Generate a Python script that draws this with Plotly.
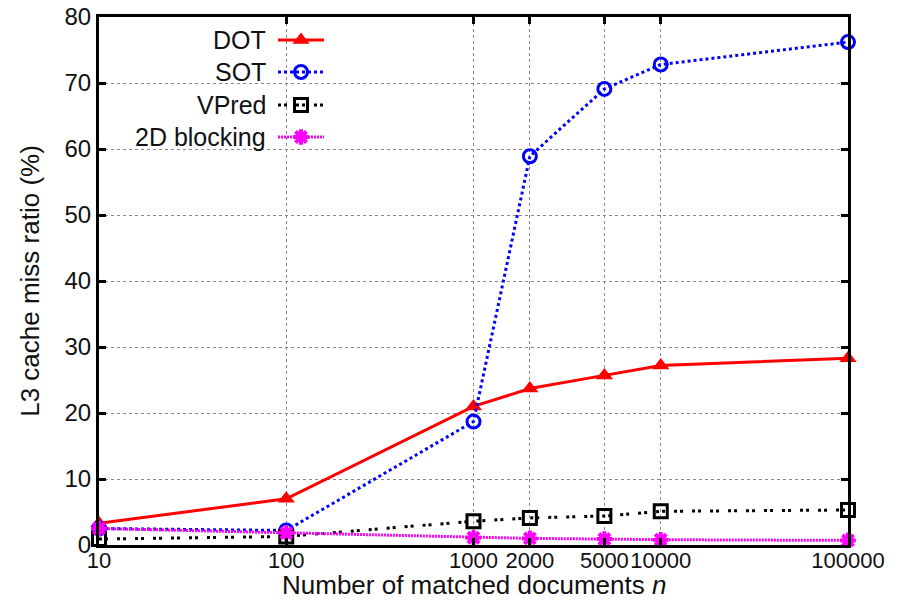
import plotly.graph_objects as go

# Number of matched documents (x) and L3 cache miss ratio in percent (y)
n_docs = [10, 100, 1000, 2000, 5000, 10000, 100000]
dot_miss = [3.3, 7.0, 21.0, 23.7, 25.7, 27.2, 28.3]
sot_miss = [2.5, 2.2, 18.7, 58.9, 69.1, 72.8, 76.2]
vpred_miss = [0.9, 1.3, 3.6, 4.1, 4.4, 5.1, 5.3]
blocking_miss = [2.5, 1.8, 1.1, 1.0, 0.9, 0.8, 0.7]

x_ticks = [10, 100, 1000, 2000, 5000, 10000, 100000]
x_tick_text = ["10", "100", "1000", "2000", "5000", "10000", "100000"]
y_ticks = [0, 10, 20, 30, 40, 50, 60, 70, 80]

series_names = ["DOT", "SOT", "VPred", "2D blocking"]
colors = ["#ff0000", "#0000ff", "#000000", "#ff00ff"]

FONT = "Liberation Sans, Arial, Helvetica, sans-serif"

styles = [
    dict(line=dict(color=colors[0], width=3, dash="solid"),
         marker=dict(symbol="triangle-up", size=15, color=colors[0])),
    dict(line=dict(color=colors[1], width=3, dash="dot"),
         marker=dict(symbol="circle-open", size=13, color=colors[1],
                     line=dict(width=3, color=colors[1]))),
    dict(line=dict(color=colors[2], width=3, dash="3px,3px,3px,9px"),
         marker=dict(symbol="square-open", size=13, color=colors[2],
                     line=dict(width=3, color=colors[2]))),
    dict(line=dict(color=colors[3], width=3, dash="2px,1px"),
         marker=dict(symbol="asterisk-open", size=13, color=colors[3],
                     line=dict(width=4, color=colors[3]))),
]

fig = go.Figure()
for name, ys, st in zip(series_names, [dot_miss, sot_miss, vpred_miss, blocking_miss], styles):
    fig.add_trace(go.Scatter(x=n_docs, y=ys, mode="lines+markers", name=name,
                             showlegend=False, cliponaxis=False, **st))

# Key in the upper-left corner: label on the left, line sample on the right.
# Key coordinates use a hidden overlay axis measured in page pixels.
key_rows = [40, 72, 105, 137]
for name, row, st in zip(series_names, key_rows, styles):
    fig.add_trace(go.Scatter(x=[278, 301, 324], y=[row, row, row], mode="lines",
                             line=st["line"], xaxis="x2", yaxis="y2",
                             showlegend=False, hoverinfo="skip"))
    fig.add_trace(go.Scatter(x=[301], y=[row], mode="markers", marker=st["marker"],
                             xaxis="x2", yaxis="y2", showlegend=False, hoverinfo="skip"))
    fig.add_annotation(x=268, y=row, xref="x2", yref="y2", text=name, showarrow=False,
                       xanchor="right", yanchor="middle",
                       font=dict(family=FONT, size=25, color="#111111"))

# x-axis title placed under the tick labels
fig.add_annotation(x=0.5, y=0, xref="paper", yref="paper", yanchor="top", yshift=-23,
                   text="Number of matched documents <i>n</i>", showarrow=False,
                   font=dict(family=FONT, size=26, color="#111111"))

# White panel behind the key so grid lines stop at its edge
fig.add_shape(type="rect", xref="x", yref="y", x0=1, x1=2.235, y0=59.6, y1=80,
              fillcolor="white", line=dict(width=0), layer="between")

fig.update_layout(
    width=900, height=600,
    margin=dict(l=99, r=52, t=17, b=55),
    paper_bgcolor="white", plot_bgcolor="white",
    font=dict(family=FONT, size=22, color="#111111"),
    xaxis=dict(
        type="log", range=[1, 5], tickvals=x_ticks, ticktext=x_tick_text, tickangle=0,
        showline=True, linecolor="black", linewidth=3, mirror="ticks",
        ticks="inside", ticklen=7, tickwidth=3, tickcolor="black",
        showgrid=True, gridcolor="#888888", gridwidth=1, griddash="dot",
        zeroline=False, tickfont=dict(size=22), automargin=False,
        ticklabelstandoff=-6,
    ),
    yaxis=dict(
        range=[0, 80], tickvals=y_ticks,
        showline=True, linecolor="black", linewidth=3, mirror="ticks",
        ticks="inside", ticklen=7, tickwidth=3, tickcolor="black",
        showgrid=True, gridcolor="#888888", gridwidth=1, griddash="dot",
        zeroline=False, tickfont=dict(size=24), automargin=False,
        title=dict(text="L3 cache miss ratio (%)", font=dict(size=26), standoff=18),
    ),
    xaxis2=dict(overlaying="x", range=[99, 848], visible=False, anchor="y2"),
    yaxis2=dict(overlaying="y", range=[545, 17], visible=False, anchor="x2"),
)

fig.write_html("out.html")
